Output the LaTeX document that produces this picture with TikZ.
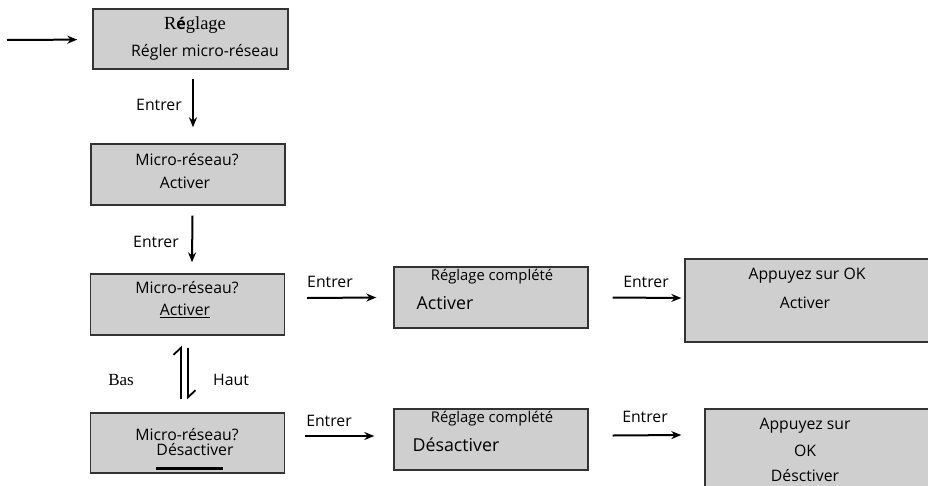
\documentclass[tikz,border=0pt]{standalone}
\usepackage{fontspec}
\setmainfont{Open Sans}
\newfontfamily\simfont{Liberation Serif}
\usepackage{xcolor}
\usetikzlibrary{arrows.meta,positioning}

\begin{document}
\begin{tikzpicture}[
  x=1pt,
  y=-1pt,
  box/.style={
    draw=black!80,
    line width=1.4pt,
    fill=black!19,
    minimum width=194pt,
    minimum height=61pt,
    inner sep=0pt
  },
  txt/.style={font=\fontsize{15.8}{18}\selectfont, inner sep=0pt},
  big/.style={font=\fontsize{17.8}{20}\selectfont, inner sep=0pt},
  small/.style={font=\fontsize{14.8}{17}\selectfont, inner sep=0pt},
  sim/.style={font=\simfont\fontsize{17}{19}\selectfont, inner sep=0pt},
  flow/.style={-{Stealth[length=10pt,width=8pt]}, line width=2pt},
  harp/.style={-{Straight Barb[left,length=7pt,width=15pt]}, line width=1.8pt}
]
  \useasboundingbox (0,0) rectangle (928,485);
  \clip (0,0) rectangle (928,485);

  \node[box, minimum width=195pt, minimum height=60pt] (set) at (190.5,39) {};
  \node[sim, font=\simfont\fontsize{18.5}{20}\selectfont] (setT) at (195,25)
    {R{\fontspec{Open Sans}\bfseries\fontsize{16}{18}\selectfont é}glage};
  \node[txt] (setL) at (205,52) {Régler micro-réseau};

  \node[box] (ask) at (188,174.5) {};
  \node[txt] (askT) at (187,160) {Micro-réseau?};
  \node[txt] (askL) at (185,183) {Activer};

  \node[box] (on) at (187.5,304.5) {};
  \node[txt] (onT) at (187,288) {Micro-réseau?};
  \node[txt] (onL) at (185,311) {\underline{Activer}};

  \node[box, minimum height=60pt] (off) at (187.5,443) {};
  \node[txt] (offT) at (187,435) {Micro-réseau?};
  \node[txt] (offL) at (195,450) {Désactiver};
  \draw[line width=3pt] (156,468) -- (223,468);

  \node[box] (onDone) at (491,297.5) {};
  \node[small] (onDoneT) at (492,277) {Réglage complété};
  \node[big] (onDoneL) at (445,303) {Activer};

  \node[box] (offDone) at (491,439.5) {};
  \node[small] (offDoneT) at (492,419) {Réglage complété};
  \node[big] (offDoneL) at (456,445) {Désactiver};

  \node[box, minimum width=245pt, minimum height=83pt] (onOk) at (807.5,300.5) {};
  \node[txt] (onOkT) at (807,276) {Appuyez sur OK};
  \node[txt] (onOkL) at (805,303) {Activer};

  \node[box, minimum width=225pt, minimum height=81pt] (offOk) at (817.5,449.5) {};
  \node[txt] (offOkT) at (805,426) {Appuyez sur};
  \node[txt] (offOkM) at (805,451) {OK};
  \node[txt] (offOkL) at (805,475.5) {Désctiver};

  \coordinate (start) at (7,40);
  \draw[flow, shorten >=15pt] (start) -- (set);

  \draw[flow] ([xshift=2.5pt,yshift=-9pt]set.south) -- ([xshift=5pt,yshift=16pt]ask.north);
  \node[txt] (e1) at (159,105) {Entrer};
  \draw[flow] ([xshift=4.5pt,yshift=-10pt]ask.south) -- ([xshift=4.5pt,yshift=11pt]on.north);
  \node[txt] (e2) at (156,242) {Entrer};

  \draw[harp] ([xshift=-6.5pt,yshift=13pt]off.north) -- ([xshift=-6.5pt,yshift=-10pt]on.south);
  \draw[harp] ([xshift=0.5pt,yshift=-12pt]on.south) -- ([xshift=0.5pt,yshift=13pt]off.north);
  \node[sim] (down) at (121,380) {Bas};
  \node[txt] (up) at (231,380) {Haut};

  \draw[flow] ([xshift=22pt,yshift=6.5pt]on.east) -- ([xshift=-17pt]onDone.west);
  \node[txt] (e3) at (330,282) {Entrer};
  \draw[flow] ([xshift=20pt,yshift=7pt]off.east) -- ([xshift=-19pt,yshift=3.5pt]offDone.west);
  \node[txt] (e4) at (329,421) {Entrer};

  \draw[flow] ([xshift=24pt]onDone.east) -- ([xshift=-3pt,yshift=2.5pt]onOk.west);
  \node[txt] (e5) at (646,282) {Entrer};
  \draw[flow] ([xshift=24pt,yshift=4pt]offDone.east) -- ([xshift=-23pt,yshift=14.5pt]offOk.west);
  \node[txt] (e6) at (645,417) {Entrer};
\end{tikzpicture}
\end{document}
